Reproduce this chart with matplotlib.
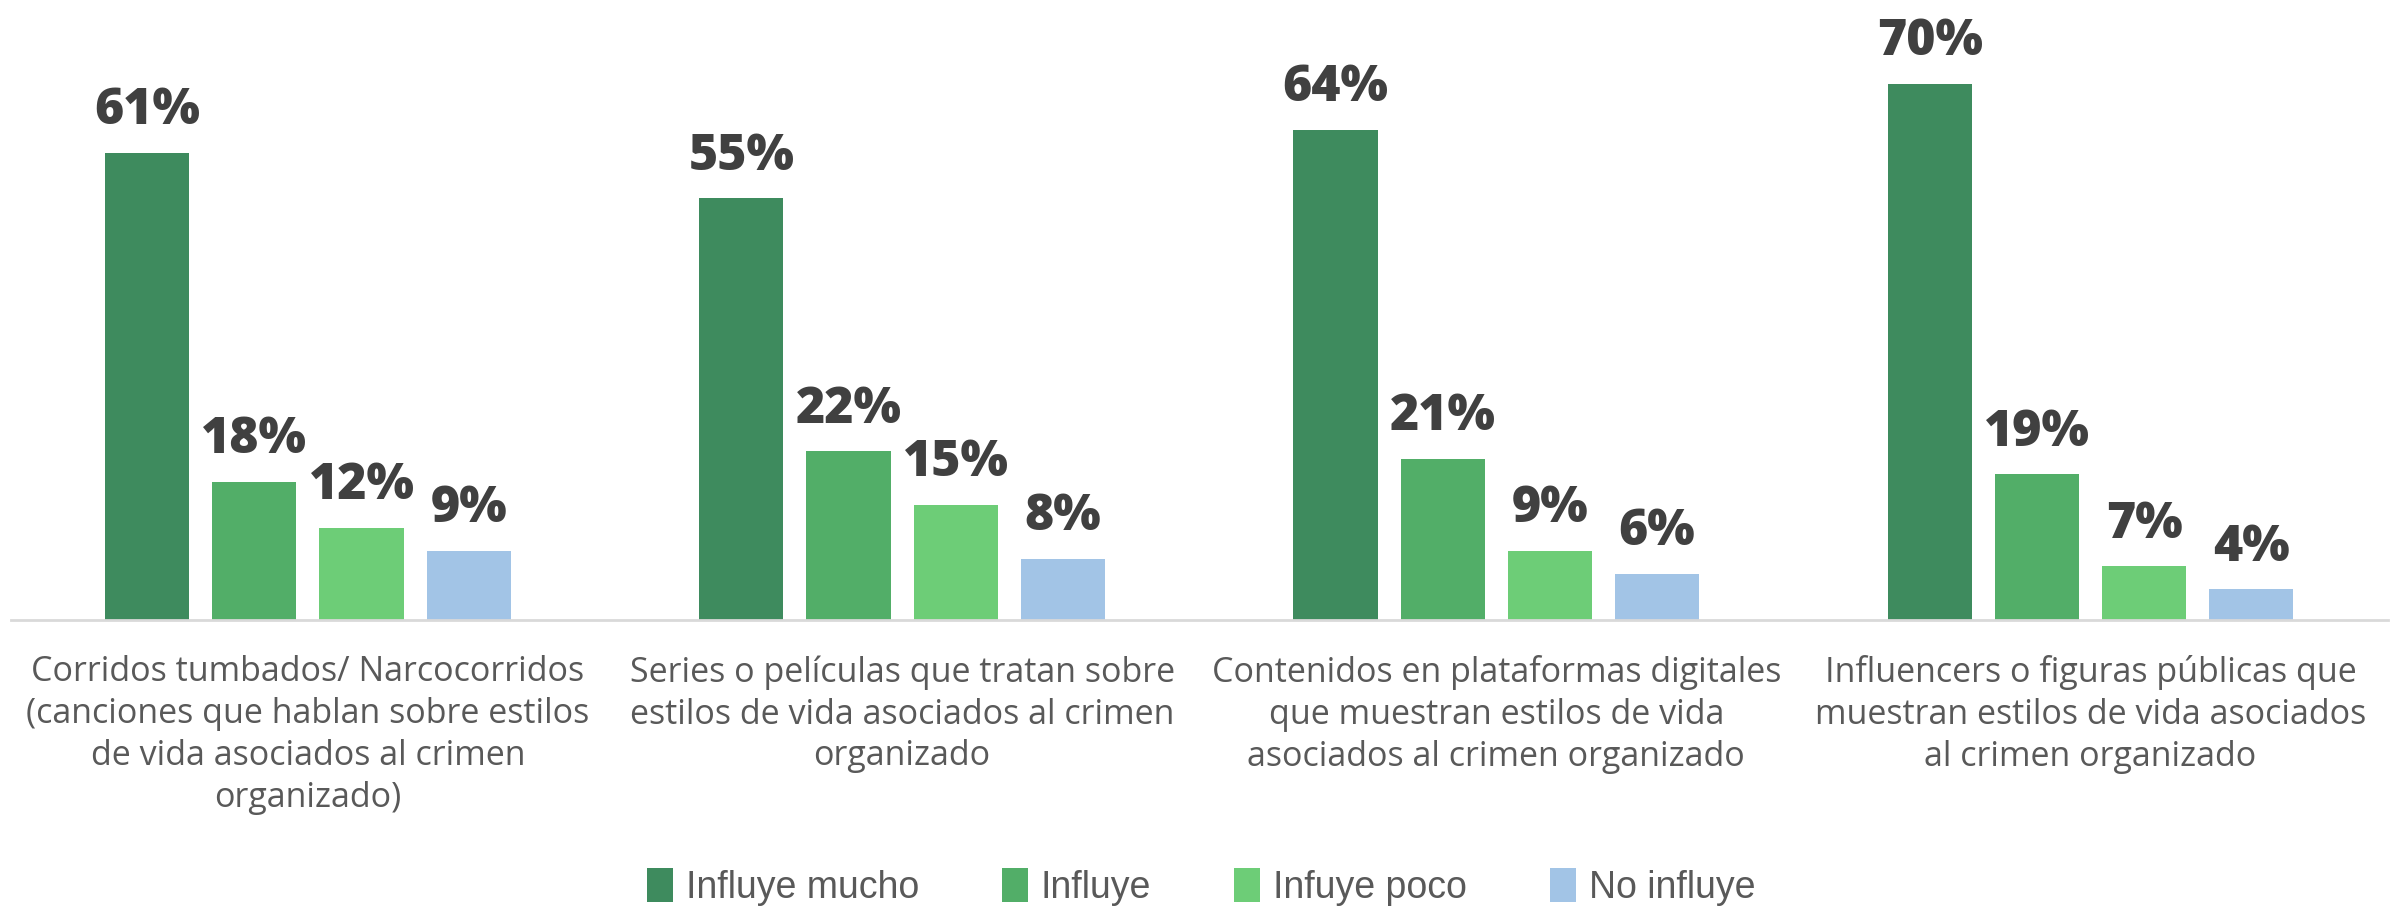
import matplotlib.pyplot as plt
import numpy as np
from matplotlib.patches import Patch

# datos
categorias = [
    'Corridos tumbados/ Narcocorridos\n(canciones que hablan sobre estilos\nde vida asociados al crimen\norganizado)',
    'Series o películas que tratan sobre\nestilos de vida asociados al crimen\norganizado',
    'Contenidos en plataformas digitales\nque muestran estilos de vida\nasociados al crimen organizado',
    'Influencers o figuras públicas que\nmuestran estilos de vida asociados\nal crimen organizado',
]
series = ['Influye mucho', 'Influye', 'Infuye poco', 'No influye']
influye_mucho = [61, 55, 64, 70]
influye = [18, 22, 21, 19]
influye_poco = [12, 15, 9, 7]
no_influye = [9, 8, 6, 4]
valores = [influye_mucho, influye, influye_poco, no_influye]
colores = ['#3e8b5e', '#52ae68', '#6dcd77', '#a2c4e6']

plt.rcParams['font.family'] = ['Open Sans', 'DejaVu Sans']

fig = plt.figure(figsize=(24.02, 9.07), dpi=100)
ax = fig.add_axes([0.0045, 0.3164, 0.9895, 0.676])

x = np.arange(len(categorias))
ancho = 0.142
paso = 0.1804
for i, (vals, col) in enumerate(zip(valores, colores)):
    pos = x + (i - 1.5) * paso
    ax.bar(pos, vals, width=ancho, color=col, zorder=2)
    for p, v in zip(pos, vals):
        ax.text(p, v + 2.2, f'{v}%', ha='center', va='bottom',
                fontsize=36, fontweight='heavy', color='#404040')

ax.set_xlim(-0.5, len(categorias) - 0.5)
ax.set_ylim(0, 80)
ax.set_yticks([])
ax.set_xticks([])
for s in ['top', 'right', 'left']:
    ax.spines[s].set_visible(False)
ax.spines['bottom'].set_color('#d9d9d9')
ax.spines['bottom'].set_linewidth(2)

for xi, cat in zip(x, categorias):
    ax.text(xi, -4.6, cat, ha='center', va='top', fontsize=24.5,
            color='#595959', linespacing=1.3)

handles = [Patch(facecolor=c, label=s) for s, c in zip(series, colores)]
fig.legend(handles=handles, loc='center', bbox_to_anchor=(0.5, 0.022), ncol=4,
           frameon=False, handlelength=0.7, handleheight=1.0,
           handletextpad=0.35, columnspacing=2.2, labelcolor='#595959',
           prop={'family': ['Liberation Sans Narrow', 'Liberation Sans'], 'size': 27})

fig.savefig('out.png', dpi=100)
